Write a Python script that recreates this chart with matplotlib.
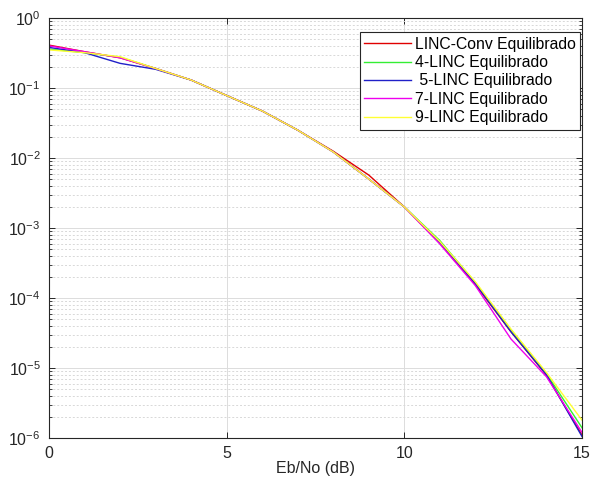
import matplotlib
matplotlib.use("Agg")
import matplotlib.pyplot as plt
from matplotlib.ticker import LogLocator, NullFormatter, FixedLocator

plt.rcParams['font.family'] = ['Liberation Sans', 'DejaVu Sans']
plt.rcParams['mathtext.fontset'] = 'custom'
plt.rcParams['mathtext.rm'] = 'Liberation Sans'
plt.rcParams['mathtext.it'] = 'Liberation Sans:italic'

ebno = [0, 1, 2, 3, 4, 5, 6, 7, 8, 9, 10, 11, 12, 13, 14, 15]

ber_linc_conv = [0.41, 0.33, 0.27, 0.19, 0.13, 0.078, 0.047, 0.025, 0.0125, 0.0057,
                 0.0020, 6.1e-4, 1.55e-4, 3.3e-5, 7.9e-6, 1.1e-6]
ber_4linc = [0.36, 0.32, 0.275, 0.19, 0.13, 0.078, 0.047, 0.025, 0.0122, 0.0050,
             0.0020, 6.6e-4, 1.65e-4, 3.5e-5, 8.3e-6, 1.4e-6]
ber_5linc = [0.38, 0.32, 0.225, 0.185, 0.13, 0.078, 0.047, 0.025, 0.0122, 0.0050,
             0.0020, 6.2e-4, 1.6e-4, 3.3e-5, 8.0e-6, 1.05e-6]
ber_7linc = [0.40, 0.33, 0.27, 0.19, 0.13, 0.078, 0.047, 0.025, 0.0122, 0.0050,
             0.0020, 5.9e-4, 1.5e-4, 2.6e-5, 7.5e-6, 1.2e-6]
ber_9linc = [0.35, 0.32, 0.28, 0.19, 0.13, 0.078, 0.047, 0.025, 0.0122, 0.0050,
             0.0020, 6.4e-4, 1.7e-4, 3.6e-5, 8.6e-6, 1.8e-6]

labels = ['LINC-Conv Equilibrado', '4-LINC Equilibrado', ' 5-LINC Equilibrado',
          '7-LINC Equilibrado', '9-LINC Equilibrado']
colors = ['#e00000', '#33ee33', '#2020c8', '#ee00ee', '#ffff33']
series = [ber_linc_conv, ber_4linc, ber_5linc, ber_7linc, ber_9linc]

x_ticks = [0, 5, 10, 15]

fig = plt.figure(figsize=(5.90, 4.91), dpi=100)
ax = fig.add_axes([49 / 590, 1 - 438 / 491, (582 - 49) / 590, (438 - 18) / 491])

for y, c, lab in zip(series, colors, labels):
    ax.semilogy(ebno, y, color=c, lw=1.0, label=lab)

ax.set_xlim(0, 15)
ax.set_ylim(1e-6, 1)
ax.xaxis.set_major_locator(FixedLocator(x_ticks))
ax.yaxis.set_major_locator(LogLocator(base=10, numticks=10))
ax.yaxis.set_minor_locator(LogLocator(base=10, subs=range(2, 10), numticks=20))
ax.yaxis.set_minor_formatter(NullFormatter())

ax.grid(True, which='major', color='#dcdcdc', lw=0.7, ls='-')
ax.grid(True, which='minor', axis='y', color='#d8d8d8', lw=0.7, ls=(0, (2, 2)))
ax.set_axisbelow(True)

ax.tick_params(which='both', direction='in', top=True, right=True,
               colors='#262626', labelcolor='#262626')
ax.tick_params(which='major', length=4, width=0.7, labelsize=11.5, pad=6)
ax.tick_params(which='minor', length=2, width=0.6)
for s in ax.spines.values():
    s.set_color('#262626')
    s.set_linewidth(0.8)

ax.set_xlabel('Eb/No (dB)', fontsize=11.5, color='#262626', labelpad=0)

leg = ax.legend(loc='upper right', bbox_to_anchor=(0.9965, 0.967), fontsize=11.3,
                handlelength=3.0, handletextpad=0.2, borderpad=0.3,
                labelspacing=0.22, fancybox=False, framealpha=1, borderaxespad=0)
leg.get_frame().set_edgecolor('#262626')
leg.get_frame().set_linewidth(0.8)

fig.savefig('out.png', dpi=100)
